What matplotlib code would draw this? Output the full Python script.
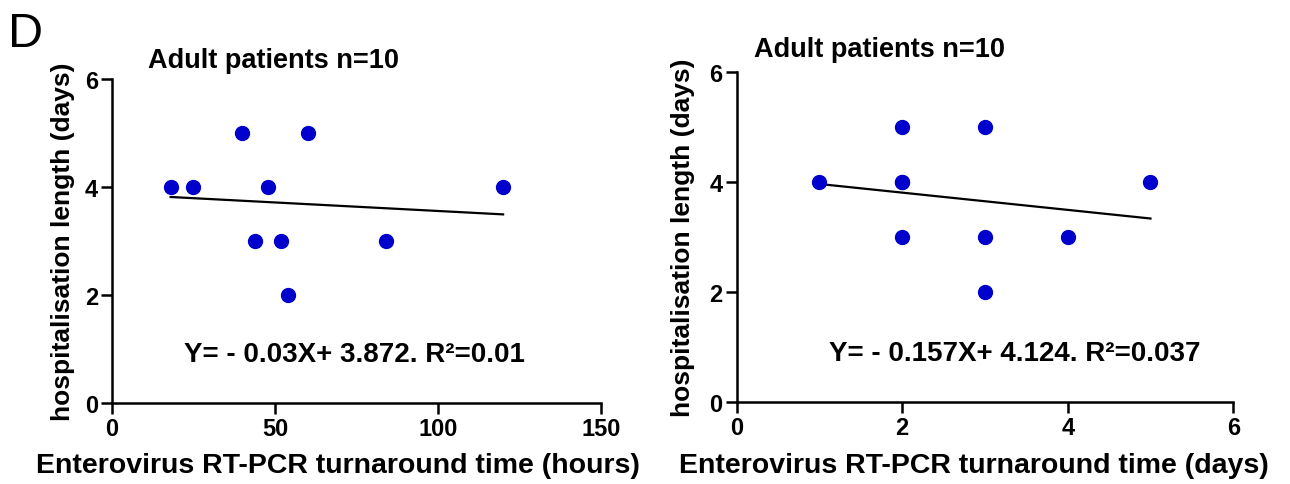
import numpy as np
import matplotlib.pyplot as plt

plt.rcParams['font.family'] = ['Liberation Sans', 'DejaVu Sans']
plt.rcParams['font.weight'] = 'bold'

# left panel: turnaround in hours
hours = [18, 25, 40, 44, 48, 52, 54, 60, 84, 120]
stay_h = [4, 4, 5, 3, 4, 3, 2, 5, 3, 4]

# right panel: turnaround in days (two patients at 2 days / 4 days overlap)
days = [1, 2, 2, 2, 2, 3, 3, 3, 4, 5]
stay_d = [4, 5, 4, 4, 3, 5, 3, 2, 3, 4]

panels = [
    dict(x=hours, y=stay_h, xlim=150, xticks=[0, 50, 100, 150],
         xlabel='Enterovirus RT-PCR turnaround time (hours)',
         eq='Y= - 0.03X+ 3.872. R\u00b2=0.01', eqx=74.5, tx=0.074, tpad=9,
         xlx=0.462, ylx=-0.076,
         rect=[0.0868, 0.167, 0.379, 0.668]),
    dict(x=days, y=stay_d, xlim=6, xticks=[0, 2, 4, 6],
         xlabel='Enterovirus RT-PCR turnaround time (days)',
         eq='Y= - 0.157X+ 4.124. R\u00b2=0.037', eqx=3.36, tx=0.036, tpad=12,
         xlx=0.477, ylx=-0.083,
         rect=[0.571, 0.169, 0.385, 0.680]),
]

fig = plt.figure(figsize=(12.9, 4.85), dpi=100)

for p in panels:
    ax = fig.add_axes(p['rect'])
    x = np.array(p['x'], dtype=float)
    y = np.array(p['y'], dtype=float)
    ax.plot(x, y, 'o', color='#0000cc', markersize=10, clip_on=False, zorder=3)
    slope, icept = np.polyfit(x, y, 1)
    xs = np.array([x.min(), x.max()])
    ax.plot(xs, slope * xs + icept, color='black', lw=1.6)

    ax.set_xlim(0, p['xlim'])
    ax.set_ylim(0, 6)
    ax.set_xticks(p['xticks'])
    ax.set_yticks([0, 2, 4, 6])
    for s in ['top', 'right']:
        ax.spines[s].set_visible(False)
    for s in ['left', 'bottom']:
        ax.spines[s].set_linewidth(1.8)
    ax.tick_params(width=1.8, length=8, labelsize=17, pad=2)
    ax.set_xlabel(p['xlabel'], fontsize=20.5, fontweight='bold')
    ax.xaxis.set_label_coords(p['xlx'], -0.152)
    ax.set_ylabel('hospitalisation length (days)', fontsize=19, fontweight='bold')
    ax.yaxis.set_label_coords(p['ylx'], 0.5)
    ax.set_title('Adult patients n=10', fontsize=19.5, fontweight='bold', loc='left',
                 x=p['tx'], pad=p['tpad'])
    ax.text(p['eqx'], 0.9, p['eq'], fontsize=20, fontweight='bold', ha='center', va='center')

fig.text(0.006, 0.975, 'D', fontsize=35, fontweight='normal', va='top')

fig.savefig('out.png', dpi=100)
